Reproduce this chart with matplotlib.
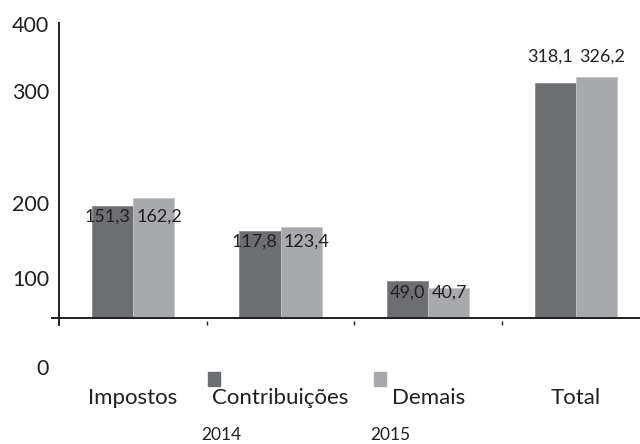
import numpy as np
import matplotlib.pyplot as plt
from matplotlib.patches import Rectangle

plt.rcParams['font.family'] = ['Lato', 'DejaVu Sans']

categories = ['Impostos', 'Contribuições', 'Demais', 'Total']
values_2014 = [151.3, 117.8, 49.0, 318.1]
values_2015 = [162.2, 123.4, 40.7, 326.2]
labels_2014 = ['151,3', '117,8', '49,0', '318,1']
labels_2015 = ['162,2', '123,4', '40,7', '326,2']
series_names = ['2014', '2015']

# y tick labels as printed on the original (irregular spacing)
ytick_pos = [396, 304, 153, 51, -70]
ytick_labels = ['400', '300', '200', '100', '0']

dark = '#6d6e71'
light = '#a7a9ac'
txt = '#231f20'

W, H = 640, 444
fig = plt.figure(figsize=(6.4, 4.44), dpi=100)

# axes spans pixel rows 23..325 (top-origin), columns 59..640
ax = fig.add_axes([59 / W, (H - 325) / H, 581 / W, 302 / H])
scale = 0.737  # px per unit
base = 317.5
ax.set_ylim((base - 325) / scale, (base - 23) / scale)
ax.set_xlim(-0.5, 581 / 147.67 - 0.5)

x = np.arange(len(categories))
w = 0.2777
ax.bar(x - w / 2, values_2014, w, color=dark, edgecolor='#8a8b8e', linewidth=0.6, zorder=2)
ax.bar(x + w / 2, values_2015, w, color=light, edgecolor='#c4c6c8', linewidth=0.6, zorder=2)

# baseline
ax.plot([-0.55, 3.5], [0, 0], color='#231f20', lw=1.4, clip_on=False, zorder=3)

for s in ['top', 'right', 'bottom']:
    ax.spines[s].set_visible(False)
ax.spines['left'].set_color('#231f20')
ax.spines['left'].set_linewidth(1.4)

ax.set_yticks([])
ax.set_xticks(x)
ax.set_xticklabels(categories, fontsize=16, color=txt)
ax.tick_params(axis='x', which='major', length=0, pad=45)
ax.set_xticks([0.5, 1.5, 2.5], minor=True)
ax.tick_params(axis='x', which='minor', direction='in', length=3, width=1, color='#231f20')

for v, lab in zip(ytick_pos, ytick_labels):
    ax.text(-0.5 - 10 / 147.67, v, lab, ha='right', va='center',
            fontsize=15.5, color=txt, clip_on=False)

for i in range(len(categories)):
    if i < 3:
        y, dy = values_2014[i], -11
    else:
        y, dy = max(values_2014[i], values_2015[i]), 20
    ax.annotate(labels_2014[i], (i, y), xytext=(-2, dy * 0.72), textcoords='offset points',
                ha='right', va='center', fontsize=13, color=txt, zorder=4)
    ax.annotate(labels_2015[i], (i, y), xytext=(2.5, dy * 0.72), textcoords='offset points',
                ha='left', va='center', fontsize=13, color=txt, zorder=4)

# legend: squares with the year printed beneath
for (sx, lx), c, name in zip([(208, 221), (374, 390)], [dark, light], series_names):
    fig.patches.append(Rectangle((sx / W, (H - 386) / H), 12 / W, 14 / H,
                                 transform=fig.transFigure, color=c))
    fig.text(lx / W, (H - 435) / H, name, ha='center', va='center', fontsize=12.5, color=txt)

fig.savefig('out.png', dpi=100)
